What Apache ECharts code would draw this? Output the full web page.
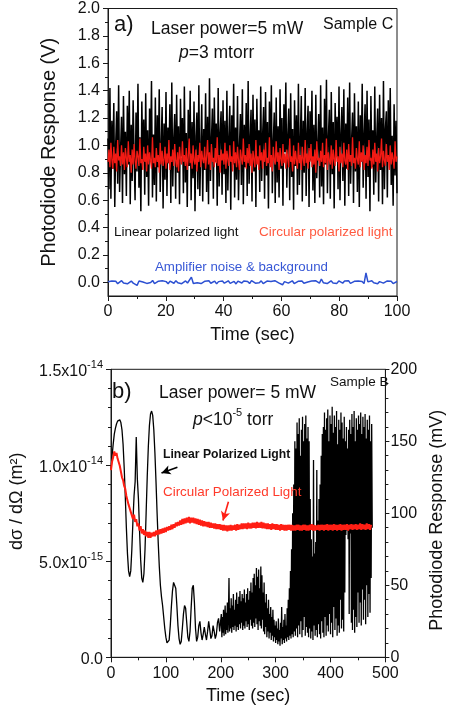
<!DOCTYPE html>
<html><head><meta charset="utf-8">
<script src="https://cdn.jsdelivr.net/npm/echarts@6/dist/echarts.min.js"></script>
<style>html,body{margin:0;padding:0;background:#fff}#c{width:454px;height:712px}</style>
</head><body><div id="c"></div>
<script>
// ---------- Panel a) : 0..100 s, evenly sampled ----------
const aTimeEnd = 100;
const aLinear = [
1.05,0.68,1.42,0.61,1.18,0.83,1.31,0.55,1.02,1.25,0.72,1.44,0.66,0.97,1.21,0.58,1.36,0.79,1.10,0.63,
1.29,0.86,1.40,0.57,1.15,0.74,1.33,0.93,0.60,1.24,0.81,1.45,0.69,1.06,0.52,1.32,0.88,1.19,0.64,1.38,
0.77,1.11,0.56,1.27,0.90,1.47,0.62,1.08,0.71,1.35,0.59,1.22,0.84,1.41,0.66,1.00,1.28,0.54,1.16,0.75,
1.39,0.63,1.13,0.87,1.30,0.58,1.46,0.70,1.04,1.23,0.61,1.37,0.80,1.14,0.57,1.34,0.92,1.20,0.65,1.43,
0.73,1.09,0.55,1.26,0.85,1.40,0.60,1.17,0.76,1.32,0.52,1.07,1.24,0.68,1.44,0.63,0.98,1.30,0.59,1.12,
0.82,1.38,0.66,1.21,0.57,1.49,0.74,1.03,1.27,0.61,1.35,0.88,1.16,0.56,1.42,0.70,1.09,1.25,0.64,1.33,
0.79,1.18,0.58,1.40,0.67,1.06,1.29,0.53,1.22,0.86,1.45,0.62,1.13,0.75,1.36,0.60,0.99,1.23,0.71,1.41,
0.57,1.15,0.84,1.31,0.63,1.47,0.72,1.05,1.26,0.59,1.37,0.81,1.19,0.55,1.34,0.90,1.11,0.66,1.43,0.74,
1.08,1.28,0.61,1.39,0.78,1.17,0.54,1.32,0.87,1.44,0.65,1.02,1.24,0.58,1.35,0.73,1.14,0.62,1.41,0.83,
1.20,0.56,1.30,0.95,1.46,0.69,1.07,1.27,0.60,1.38,0.77,1.12,0.53,1.33,0.85,1.22,0.64,1.45,0.71,1.04,
1.36,0.59,1.18,0.80,1.42,0.63,1.10,1.29,0.55,1.25,0.89,1.40,0.67,1.15,0.58,1.37,0.76,1.01,1.23,0.62,
1.44,0.70,1.13,0.57,1.34,0.86,1.48,0.65,1.06,1.26,0.61,1.39,0.79,1.17,0.54,1.31,0.92,1.21,0.68,1.43,
0.60,1.09,1.28,0.74,1.41,0.56,1.16,0.83,1.35,0.63,1.46,0.72,1.03,1.24,0.58,1.38,0.81,1.14,0.66,1.32,
0.55,1.22,0.88,1.45,0.69,1.08,1.30,0.61,1.40,0.77,1.19,0.52,1.36,0.84,1.11,0.64,1.43,0.73,1.05,1.27,
0.59,1.37,0.82,1.20,0.57,1.47,0.68,1.12,1.25,0.62,1.33,0.90,1.42,0.71,1.07,0.56,1.30,0.78,1.18,0.65];
const aCircular = [
0.88,0.97,0.84,1.02,0.90,0.83,0.99,0.87,0.94,0.81,1.04,0.89,0.92,0.85,1.00,0.86,0.95,0.82,0.98,0.91,
0.84,1.03,0.88,0.93,0.80,0.97,0.86,1.01,0.89,0.83,0.96,0.92,0.85,1.05,0.87,0.90,0.82,0.99,0.88,0.94,
0.81,1.00,0.86,0.95,0.89,0.83,1.06,0.87,0.91,0.84,0.98,0.88,0.93,0.80,1.02,0.86,0.96,0.85,0.90,0.99,
0.83,0.94,0.87,1.04,0.82,0.92,0.88,0.97,0.85,1.01,0.89,0.84,0.95,0.81,0.99,0.90,0.86,1.03,0.88,0.93,
0.85,0.98,0.82,0.91,1.05,0.87,0.94,0.83,1.00,0.89,0.86,0.97,0.81,0.93,0.88,1.02,0.84,0.96,0.90,0.87,
0.99,0.83,0.92,1.04,0.86,0.95,0.82,1.01,0.88,0.91,0.84,0.98,0.87,1.06,0.85,0.93,0.80,0.97,0.89,0.94,
0.86,1.02,0.83,0.96,0.90,0.85,1.00,0.88,0.92,0.81,1.03,0.87,0.95,0.84,0.99,0.89,0.82,0.97,0.91,0.86,
1.05,0.88,0.93,0.83,0.98,0.87,1.01,0.85,0.94,0.80,0.96,0.90,0.84,1.04,0.86,0.92,0.82,1.00,0.89,0.95,
0.83,0.97,0.88,1.02,0.85,0.91,0.87,1.06,0.84,0.93,0.81,0.99,0.89,0.86,1.03,0.88,0.95,0.82,0.98,0.90,
0.85,1.01,0.87,0.94,0.83,0.97,0.90,0.84,1.05,0.88,0.92,0.81,1.00,0.86,0.96,0.89,0.83,1.02,0.87,0.93,
0.82,0.99,0.90,0.85,1.04,0.87,0.94,0.83,0.98,0.88,1.01,0.84,0.92,0.86,0.97,0.80,1.03,0.89,0.91,0.85,
0.96,0.88,1.02,0.84,0.93,0.87,1.05,0.82,0.95,0.89,0.86,1.00,0.83,0.97,0.90,0.85,1.04,0.88,0.92,0.81,
0.99,0.87,0.94,0.84,1.02,0.89,0.86,0.97,0.82,1.01,0.88,0.93,0.85,1.06,0.87,0.91,0.83,0.98,0.90,0.86,
1.03,0.84,0.95,0.88,1.00,0.82,0.93,0.87,0.99,0.85,1.04,0.89,0.91,0.83,0.97,0.86,1.02,0.88,0.94,0.81,
0.98,0.87,0.92,1.05,0.84,0.96,0.89,0.85,1.01,0.88,0.93,0.82,1.00,0.86,0.95,0.90,0.83,1.03,0.88,0.92];
const aNoise = [
0.004,-0.007,0.010,-0.003,0.008,-0.010,0.002,0.012,-0.005,0.007,-0.011,0.003,0.009,-0.006,0.005,-0.022,0.010,-0.004,0.002,0.011,
-0.008,0.006,-0.002,0.013,-0.009,0.003,0.008,-0.005,0.011,-0.002,0.005,-0.010,0.009,0.002,-0.007,0.012,-0.003,0.007,-0.010,0.004,
0.010,-0.005,0.002,0.038,-0.008,0.006,-0.003,0.011,-0.009,0.005,0.008,-0.004,0.012,-0.007,0.003,0.009,-0.011,0.005,-0.002,0.010,
-0.006,0.004,0.011,-0.008,0.002,0.007,-0.012,0.009,0.001,-0.005,0.010,-0.003,0.006,-0.009,0.012,0.002,-0.006,0.008,-0.004,0.011,
-0.010,0.003,0.009,-0.005,0.006,-0.008,0.012,0.001,-0.004,0.010,-0.018,0.005,0.008,-0.006,0.003,0.011,-0.009,0.004,0.007,-0.003,
0.010,-0.007,0.005,0.002,-0.010,0.009,-0.004,0.012,0.001,-0.006,0.024,-0.003,0.008,-0.009,0.005,0.011,-0.005,0.003,-0.008,0.010,
0.002,-0.006,0.009,-0.003,0.012,-0.008,0.004,0.007,-0.005,0.010,-0.002,0.006,-0.009,0.068,0.003,-0.006,0.011,-0.004,0.007,-0.010,
0.005,0.009,-0.006,0.003,0.010,-0.004,0.007,-0.009,0.004,0.006];

// ---------- Panel b) : mV on right axis ----------
const bLinearEarlyStart = 0, bLinearEarlyStep = 2;
const bLinearEarly = [
130,140,148,155,159,162,164,165,165,163,
158,148,132,112,90,72,60,56,60,75,
95,112,122,153,124,110,88,68,55,52,
58,75,100,125,146,161,169,171,168,158,
142,122,100,80,63,50,42,36,28,20,
14,10,9,12,22,35,46,52,53,48,
36,22,13,9,11,20,30,36,34,24,
14,11,18,34,48,50,38,20,11,14,
22,25,17,12,16,21,16,12,18,25,
19,13,15,22,18,13,16,24,27,18];
const bLinearLateStart = 200, bLinearLateStep = 1;
const bLinearLate = [
18,30,14,28,17,33,15,26,36,16,31,19,38,17,29,55,18,34,20,41,
17,36,21,44,19,33,22,40,18,45,21,37,19,42,23,46,20,39,24,44,
19,41,22,47,20,38,25,44,21,48,23,40,19,46,26,52,22,45,20,55,
24,58,21,50,27,62,23,56,19,61,25,48,22,63,20,57,26,45,18,52,
16,38,21,44,14,34,18,40,13,30,17,35,12,28,15,33,11,26,14,22,
10,25,12,20,9,27,11,19,8,24,13,35,9,21,12,26,10,30,13,22,
11,34,14,40,12,48,15,60,13,75,16,100,14,120,18,150,15,145,20,163,
14,155,22,166,16,140,25,158,14,167,19,150,28,162,15,168,21,152,17,160,
14,150,20,110,13,82,18,70,12,137,22,72,15,80,19,130,14,95,23,110,
16,120,13,140,25,155,17,160,14,170,28,158,15,166,22,172,18,150,30,168,
16,162,24,174,14,156,35,168,19,160,27,171,15,148,22,165,17,158,40,170,
20,163,26,152,18,167,45,150,85,160,88,145,82,158,30,165,86,155,24,169,
19,160,33,171,17,150,28,166,21,158,45,168,24,162,38,170,22,155,47,167,
26,160,40,169,23,152,50,165,28,158,44,168,31,150,55,162,90];
const bCircularStart = 0, bCircularStep = 2;
const bCircular = [
130,136,139,143,140,142,138,137,133,129,125,123,119,117,112,111,106,105,101,100,
96,99,94,96,91,93,88,91,86,89,85,88,84,87,83,87,83,86.5,84,87,
84,88,85,88.5,85.5,89,86,89.5,86.5,90,87,90.5,88,91,88.5,92,89,92.5,90,93.5,
91,94,91.5,95,92,96,92.5,96.5,93,97,93.5,97.5,93,97,93.5,97,93,96.5,92.5,96,
92,95.5,91.5,95,91,94.5,91,94,90.5,94,90,93.5,90,93,89.5,93,89,92.5,89,92.5,
88.5,92,88,92,88,91.5,87.5,91.5,88,92,88,91.5,88.5,92,88,92.5,88.5,92,89,93,
89,93,89.5,93,89,93.5,89.5,93,89.5,93.5,90,93.5,89.5,94,90,93.5,90,94,89.5,93.5,
89.5,93,89,93,89,92.5,88.5,93,89,92.5,88.5,92.5,88.5,92,88,92.5,88.5,92,88,92,
88,92,88.5,92,88,92,88,91.5,88,92,88.5,92,88,91.5,88,92,88.5,92,88,91.5,
88,92,88.5,92.5,88,92,88,91.5,88.5,92,88,92,88.5,92,88,92,88.5,92.5,88,92,
88.5,92,88,92.5,88.5,92,88,92,88.5,92.5,88,92,88.5,92,88.5,92.5,88,92,89,92.5,
88.5,92,89,92.5,88.5,92,89,93,88.5,92.5,89,92,88.5,93,89,92.5,88.5,92];

// ---------- helpers ----------
const FONT = 'Liberation Sans, Arial, Helvetica, sans-serif';
const spread = (vals, t0, dt) => vals.map((v, i) => [t0 + i * dt, v]);
const aStep = n => aTimeEnd / (n - 1);
const bLinearData = spread(bLinearEarly, bLinearEarlyStart, bLinearEarlyStep)
  .concat(spread(bLinearLate, bLinearLateStart, bLinearLateStep));

const axisCol = '#1a1a1a';
const lbl = {fontFamily: FONT, fontSize: 16, color: '#111'};
function xAx(grid, max, interval, show) {
  return {
    gridIndex: grid, type: 'value', min: 0, max: max, interval: interval, show: show,
    axisLine: {show: true, onZero: false, lineStyle: {color: axisCol, width: 1}},
    axisTick: {show: true, length: 5, lineStyle: {color: axisCol}},
    minorTick: {show: true, splitNumber: 2, length: 3, lineStyle: {color: axisCol}},
    splitLine: {show: false}, minorSplitLine: {show: false},
    axisLabel: Object.assign({margin: 8}, lbl),
    name: 'Time (sec)', nameLocation: 'middle', nameGap: 30,
    nameTextStyle: {fontFamily: FONT, fontSize: 18, color: '#111'}
  };
}
const supRich = {
  m: {fontFamily: FONT, fontSize: 16, color: '#111', verticalAlign: 'bottom', lineHeight: 20},
  s: {fontFamily: FONT, fontSize: 11, color: '#111', verticalAlign: 'top', lineHeight: 12}
};

const chart = echarts.init(document.getElementById('c'), null, {renderer: 'canvas'});
const txt = (x, y, text, size, color, extra) => ({
  type: 'text', x: x, y: y, z: 100,
  style: Object.assign({text: text, fontFamily: FONT, fontSize: size, fill: color, align: 'left', verticalAlign: 'middle'}, extra || {})
});
const richP = (size) => ({
  i: {fontFamily: FONT, fontSize: size, fontStyle: 'italic', fill: '#111', verticalAlign: 'bottom', lineHeight: 22},
  n: {fontFamily: FONT, fontSize: size, fill: '#111', verticalAlign: 'bottom', lineHeight: 22},
  s: {fontFamily: FONT, fontSize: 11, fill: '#111', verticalAlign: 'top', lineHeight: 12}
});

chart.setOption({
  animation: false,
  backgroundColor: '#ffffff',
  grid: [
    {left: 108, top: 8.5, width: 289, height: 287.5, show: true, borderColor: axisCol, borderWidth: 1, backgroundColor: 'transparent'},
    {left: 108, top: 8.5, width: 289, height: 273.8},
    {left: 108, top: 369.3, width: 289, height: 288, show: true, borderColor: axisCol, borderWidth: 1, backgroundColor: 'transparent'}
  ],
  xAxis: [
    xAx(0, 100, 20, true),
    {gridIndex: 1, type: 'value', min: 0, max: 100, show: false},
    xAx(2, 500, 100, true)
  ],
  yAxis: [
    {gridIndex: 0, type: 'value', min: -0.1, max: 2.0,
     axisLine: {show: true, lineStyle: {color: axisCol}}, axisTick: {show: false}, axisLabel: {show: false},
     splitLine: {show: false},
     name: 'Photodiode Response (V)', nameLocation: 'middle', nameGap: 49,
     nameTextStyle: {fontFamily: FONT, fontSize: 20, color: '#111'}},
    {gridIndex: 1, type: 'value', min: 0, max: 2.0, interval: 0.2,
     axisLine: {show: false}, axisTick: {show: true, length: 5, lineStyle: {color: axisCol}},
     minorTick: {show: true, splitNumber: 2, length: 3, lineStyle: {color: axisCol}},
     splitLine: {show: false}, minorSplitLine: {show: false},
     axisLabel: Object.assign({margin: 8, formatter: v => v.toFixed(1)}, lbl)},
    {gridIndex: 2, type: 'value', position: 'left', min: 0, max: 1.5e-14, interval: 5e-15,
     axisLine: {show: true, lineStyle: {color: axisCol}}, axisTick: {show: true, length: 5, lineStyle: {color: axisCol}},
     minorTick: {show: true, splitNumber: 5, length: 3, lineStyle: {color: axisCol}},
     splitLine: {show: false}, minorSplitLine: {show: false},
     axisLabel: {margin: 8, rich: supRich, formatter: v => {
        if (v === 0) return '{m|0.0}';
        const e = Math.floor(Math.log10(v) + 1e-9);
        const m = v / Math.pow(10, e);
        return '{m|' + m.toFixed(1) + 'x10}{s|' + e + '}';
     }},
     name: 'd\u03c3 / d\u03a9 (m\u00b2)', nameLocation: 'middle', nameGap: 85,
     nameTextStyle: {fontFamily: FONT, fontSize: 18, color: '#111', padding: [0, 0, 0, 24]}},
    {gridIndex: 2, type: 'value', position: 'right', min: 0, max: 200, interval: 50,
     axisLine: {show: true, lineStyle: {color: axisCol}}, axisTick: {show: true, length: 4, lineStyle: {color: axisCol}},
     minorTick: {show: true, splitNumber: 5, length: 3, lineStyle: {color: axisCol}},
     splitLine: {show: false}, minorSplitLine: {show: false},
     axisLabel: Object.assign({margin: 5}, lbl),
     name: 'Photodiode Response (mV)', nameLocation: 'middle', nameGap: 36, nameRotate: 90,
     nameTextStyle: {fontFamily: FONT, fontSize: 18, color: '#111', padding: [0, 14, 0, 0]}}
  ],
  series: [
    {type: 'line', xAxisIndex: 0, yAxisIndex: 0, showSymbol: false, symbol: 'none', sampling: null,
     data: spread(aLinear, 0, aStep(aLinear.length)), lineStyle: {color: '#000', width: 1.5}, z: 2},
    {type: 'line', xAxisIndex: 0, yAxisIndex: 0, showSymbol: false, symbol: 'none',
     data: spread(aCircular, 0, aStep(aCircular.length)), lineStyle: {color: '#f21a14', width: 1.3}, z: 3},
    {type: 'line', xAxisIndex: 0, yAxisIndex: 0, showSymbol: false, symbol: 'none',
     data: spread(aNoise, 0, aStep(aNoise.length)), lineStyle: {color: '#2c50d2', width: 1.5}, z: 3},
    {type: 'line', xAxisIndex: 2, yAxisIndex: 3, showSymbol: false, symbol: 'none',
     data: bLinearData, lineStyle: {color: '#000', width: 1.3}, z: 2,
     markLine: {silent: true, symbol: ['none', 'arrow'], symbolSize: [7, 9], label: {show: false},
       lineStyle: {color: '#000', width: 1.6, type: 'solid'},
       data: [[{coord: [121, 132]}, {coord: [92, 128]}]]}},
    {type: 'line', xAxisIndex: 2, yAxisIndex: 3, showSymbol: false, symbol: 'none',
     data: spread(bCircular, bCircularStart, bCircularStep), lineStyle: {color: '#ff1e14', width: 2}, z: 3,
     markLine: {silent: true, symbol: ['none', 'arrow'], symbolSize: [7, 9], label: {show: false},
       lineStyle: {color: '#ff1e14', width: 1.6, type: 'solid'},
       data: [[{coord: [214, 108]}, {coord: [204, 95]}]]}}
  ],
  graphic: [
    txt(114, 25, 'a)', 22, '#111'),
    txt(151, 29, 'Laser power=5 mW', 17.5, '#111'),
    txt(179, 51, '{i|p}{n|=3 mtorr}', 17.5, '#111', {rich: richP(17.5)}),
    txt(323, 25, 'Sample C', 16, '#111'),
    txt(114, 232, 'Linear polarized light', 13.5, '#111'),
    txt(259, 232, 'Circular polarized light', 13.5, '#ff5a40'),
    txt(155, 267, 'Amplifier noise & background', 13.3, '#3858d6'),
    txt(112, 392, 'b)', 22, '#111'),
    txt(159, 393, 'Laser power= 5 mW', 17.5, '#111'),
    txt(193, 418, '{i|p}{n|<10}{s|-5}{n| torr}', 17.5, '#111', {rich: richP(17.5)}),
    txt(330, 382, 'Sample B', 13.5, '#111'),
    txt(163, 455, 'Linear Polarized Light', 12.2, '#111', {fontWeight: 'bold'}),
    txt(163, 492, 'Circular Polarized Light', 13.4, '#ff3a2a')
  ]
});
</script>
</body></html>
